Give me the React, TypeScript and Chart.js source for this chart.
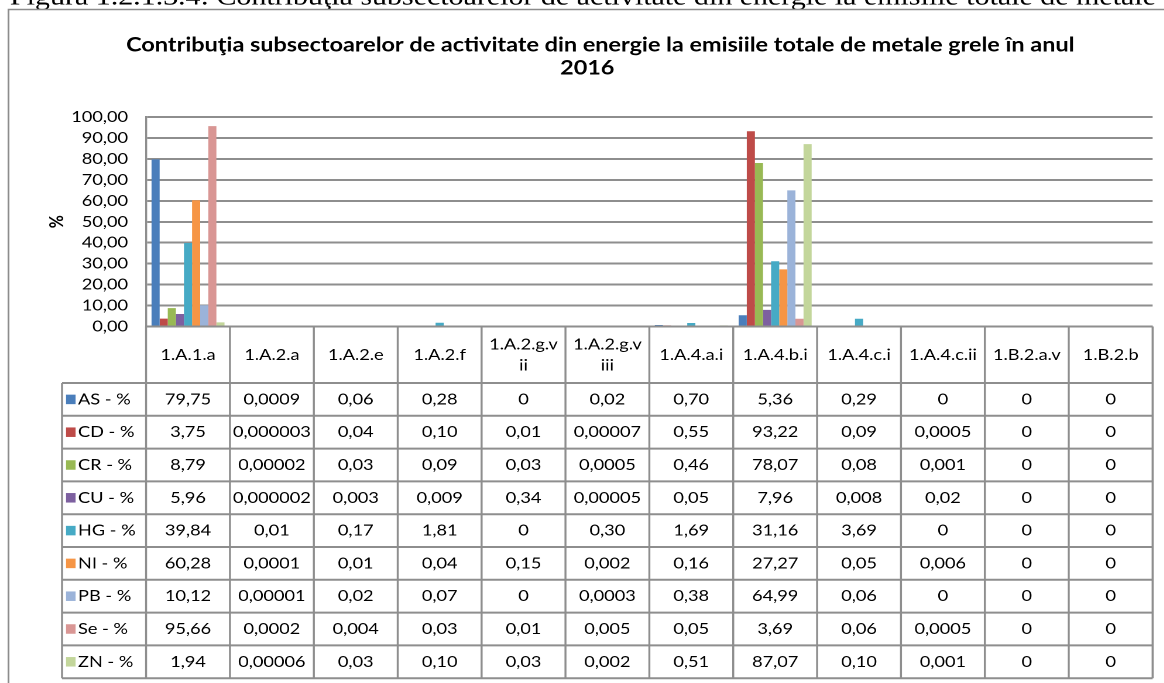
import React, { useEffect, useRef } from 'react';
import { Chart, registerables } from 'chart.js';

Chart.register(...registerables);

// ---------------- data ----------------
const captionText =
  'Figura 1.2.1.3.4: Contribuţia subsectoarelor de activitate din energie la emisiile totale de metale grele în anul 2016';
const titleLines = [
  'Contribuţia subsectoarelor de activitate din energie la emisiile totale de metale grele în anul',
  '2016',
];
const yAxisTitle = '%';

const categories = [
  '1.A.1.a', '1.A.2.a', '1.A.2.e', '1.A.2.f', '1.A.2.g.vii', '1.A.2.g.viii',
  '1.A.4.a.i', '1.A.4.b.i', '1.A.4.c.i', '1.A.4.c.ii', '1.B.2.a.v', '1.B.2.b',
];

const seriesLabels = ['AS - %', 'CD - %', 'CR - %', 'CU - %', 'HG - %', 'NI - %', 'PB - %', 'Se - %', 'ZN - %'];

const AS = [79.75, 0.0009, 0.06, 0.28, 0, 0.02, 0.70, 5.36, 0.29, 0, 0, 0];
const CD = [3.75, 0.000003, 0.04, 0.10, 0.01, 0.00007, 0.55, 93.22, 0.09, 0.0005, 0, 0];
const CR = [8.79, 0.00002, 0.03, 0.09, 0.03, 0.0005, 0.46, 78.07, 0.08, 0.001, 0, 0];
const CU = [5.96, 0.000002, 0.003, 0.009, 0.34, 0.00005, 0.05, 7.96, 0.008, 0.02, 0, 0];
const HG = [39.84, 0.01, 0.17, 1.81, 0, 0.30, 1.69, 31.16, 3.69, 0, 0, 0];
const NI = [60.28, 0.0001, 0.01, 0.04, 0.15, 0.002, 0.16, 27.27, 0.05, 0.006, 0, 0];
const PB = [10.12, 0.00001, 0.02, 0.07, 0, 0.0003, 0.38, 64.99, 0.06, 0, 0, 0];
const SE = [95.66, 0.0002, 0.004, 0.03, 0.01, 0.005, 0.05, 3.69, 0.06, 0.0005, 0, 0];
const ZN = [1.94, 0.00006, 0.03, 0.10, 0.03, 0.002, 0.51, 87.07, 0.10, 0.001, 0, 0];

const seriesValues = [AS, CD, CR, CU, HG, NI, PB, SE, ZN];

const seriesColors = [
  '#4a7ebb', '#be4b48', '#98b954', '#7d60a0', '#46aac5', '#f69545', '#9bb3d9', '#d99694', '#c3d69b',
];

const yMin = 0;
const yMax = 100;
const yStep = 10;

// ---------------- layout ----------------
// the reference picture is stretched horizontally; draw in a narrower space and stretch it back
const SX = 1.17;
const W = 1164 / SX;
const H = 683;
const px = (x: number) => x / SX;

const FONT = 'Lato, "Open Sans", sans-serif';

function fmt(v: number): string {
  if (v === 0) return '0';
  const d = v >= 0.01 ? 2 : -Math.floor(Math.log10(v) + 1e-9);
  return v.toFixed(d).replace('.', ',');
}

function wrapText(ctx: CanvasRenderingContext2D, text: string, maxW: number): string[] {
  const out: string[] = [];
  let cur = '';
  for (const ch of text) {
    if (cur && ctx.measureText(cur + ch).width > maxW) {
      out.push(cur);
      cur = ch;
    } else {
      cur += ch;
    }
  }
  if (cur) out.push(cur);
  return out;
}

const docPlugin = {
  id: 'docPlugin',
  beforeDraw(chart: any) {
    const ctx: CanvasRenderingContext2D = chart.ctx;
    ctx.save();
    ctx.fillStyle = '#ffffff';
    ctx.fillRect(0, 0, chart.width, chart.height);
    // clipped caption line of the document
    ctx.fillStyle = '#000000';
    ctx.font = '25.6px "Liberation Serif", serif';
    ctx.textAlign = 'left';
    ctx.textBaseline = 'alphabetic';
    ctx.fillText(captionText, px(10), 4.5);
    // chart frame
    ctx.strokeStyle = '#8c8c8c';
    ctx.lineWidth = 1.5;
    ctx.beginPath();
    ctx.moveTo(px(8.5), chart.height + 2);
    ctx.lineTo(px(8.5), 9.5);
    ctx.lineTo(chart.width + 2, 9.5);
    ctx.stroke();
    // title
    ctx.fillStyle = '#000000';
    ctx.font = `bold 20px ${FONT}`;
    ctx.textAlign = 'center';
    ctx.textBaseline = 'middle';
    ctx.fillText(titleLines[0], px(600), 45);
    ctx.fillText(titleLines[1], px(587), 68);
    ctx.restore();
  },
  afterDraw(chart: any) {
    const ctx: CanvasRenderingContext2D = chart.ctx;
    const xs = chart.scales.x;
    const area = chart.chartArea;
    const n = categories.length;
    const cw = (xs.right - xs.left) / n;
    const top = area.bottom;
    const headH = 56.5;
    const rowH = 32.8;
    const legendLeft = px(62);
    const bottom = top + headH + rowH * seriesLabels.length;

    ctx.save();
    ctx.strokeStyle = '#8e8e8e';
    const line = (x1: number, y1: number, x2: number, y2: number) => {
      ctx.beginPath();
      ctx.moveTo(x1, y1);
      ctx.lineTo(x2, y2);
      ctx.stroke();
    };
    ctx.lineWidth = 2;
    line(xs.left, top, xs.right, top);
    for (let r = 0; r <= seriesLabels.length; r++) {
      const y = top + headH + r * rowH;
      line(legendLeft, y, xs.right, y);
    }
    ctx.lineWidth = 2 / SX;
    for (let i = 0; i <= n; i++) {
      const x = xs.left + i * cw;
      line(x, top, x, bottom);
    }
    line(legendLeft, top + headH, legendLeft, bottom);

    ctx.fillStyle = '#000000';
    ctx.font = `15.5px ${FONT}`;
    ctx.textAlign = 'center';
    ctx.textBaseline = 'middle';
    categories.forEach((c, i) => {
      const lines = wrapText(ctx, c, cw - 12);
      const cx = xs.left + (i + 0.5) * cw;
      const cy = top + headH / 2;
      lines.forEach((l, k) => ctx.fillText(l, cx, cy + (k - (lines.length - 1) / 2) * 21));
    });

    seriesLabels.forEach((lab, r) => {
      const cy = top + headH + (r + 0.5) * rowH;
      ctx.fillStyle = seriesColors[r];
      ctx.fillRect(px(66), cy - 4.75, px(9.5), 9.5);
      ctx.fillStyle = '#000000';
      ctx.textAlign = 'left';
      ctx.fillText(lab, px(78), cy);
      ctx.textAlign = 'center';
      seriesValues[r].forEach((v, i) => ctx.fillText(fmt(v), xs.left + (i + 0.5) * cw, cy));
    });
    ctx.restore();
  },
};

export default function App() {
  const ref = useRef<HTMLCanvasElement | null>(null);

  useEffect(() => {
    if (!ref.current) return;
    const chart = new Chart(ref.current, {
      type: 'bar',
      data: {
        labels: categories,
        datasets: seriesLabels.map((label, i) => ({
          label,
          data: seriesValues[i],
          backgroundColor: seriesColors[i],
          borderWidth: 0,
          categoryPercentage: 0.87,
          barPercentage: 1,
        })),
      },
      options: {
        animation: false,
        responsive: true,
        maintainAspectRatio: false,
        devicePixelRatio: 2,
        layout: {
          padding: { top: 117, bottom: H - 326.5, left: 0, right: W - px(1152) },
        },
        plugins: {
          legend: { display: false },
          title: { display: false },
          tooltip: { enabled: false },
        },
        scales: {
          x: { display: false },
          y: {
            min: yMin,
            max: yMax,
            ticks: {
              stepSize: yStep,
              autoSkip: false,
              padding: px(18),
              color: '#000000',
              font: { family: FONT, size: 15.5 },
              callback: (v: any) => Number(v).toFixed(2).replace('.', ','),
            },
            grid: { color: '#8e8e8e', lineWidth: 2, drawTicks: false },
            border: { display: true, color: '#8e8e8e', width: 2 / SX },
            title: {
              display: true,
              text: yAxisTitle,
              color: '#000000',
              font: { family: FONT, size: 16, weight: 'bold' },
              padding: { top: px(57) - 9.6, bottom: 0 },
            },
            afterFit: (s: any) => {
              s.width = px(146);
            },
          },
        },
      },
      plugins: [docPlugin],
    } as any);
    return () => chart.destroy();
  }, []);

  return (
    <div
      style={{
        position: 'absolute',
        left: 0,
        top: 0,
        width: W,
        height: H,
        transform: `scaleX(${SX})`,
        transformOrigin: '0 0',
        overflow: 'hidden',
      }}
    >
      <canvas ref={ref} />
    </div>
  );
}
